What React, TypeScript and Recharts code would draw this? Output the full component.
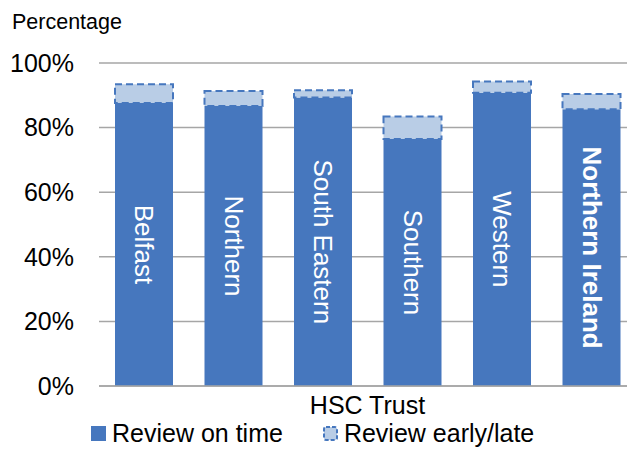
import { BarChart, Bar, XAxis, YAxis, CartesianGrid, Legend, LabelList } from "recharts";

const trusts = ["Belfast", "Northern", "South Eastern", "Southern", "Western", "Northern Ireland"];
const onTime = [87.6, 86.7, 89.3, 76.5, 90.8, 85.7];
const earlyLate = [5.8, 4.6, 2.3, 6.9, 3.5, 4.7];
const yTicks = [0, 20, 40, 60, 80, 100];

const DARK = "#4677BE";
const LIGHT = "#B9CDE6";
const GRID = "#a6a6a6";
const FONT = "'Liberation Sans', Arial, sans-serif";

const data = trusts.map((name, i) => ({ name, onTime: onTime[i], earlyLate: earlyLate[i] }));

function BarName(props: any) {
  const { x, y, width, height, value } = props;
  const cx = x + width / 2;
  const cy = y + height / 2;
  return (
    <text
      x={cx}
      y={cy}
      transform={`rotate(90, ${cx}, ${cy})`}
      textAnchor="middle"
      dominantBaseline="central"
      fill="#fff"
      fontSize={26}
      fontFamily={FONT}
      fontWeight={value === "Northern Ireland" ? "bold" : "normal"}
    >
      {value}
    </text>
  );
}

function LegendBox() {
  const item = (label: string, icon: any) => (
    <div style={{ display: "flex", alignItems: "center", gap: 6 }}>
      {icon}
      <span style={{ fontSize: 25, color: "#000", lineHeight: "26px" }}>{label}</span>
    </div>
  );
  return (
    <div style={{ display: "flex", gap: 40, fontFamily: FONT, paddingLeft: 91, paddingTop: 1 }}>
      {item("Review on time", <svg width={15} height={15}><rect x={0} y={0} width={15} height={15} fill={DARK} /></svg>)}
      {item(
        "Review early/late",
        <svg width={15} height={15}>
          <rect x={1} y={1} width={13} height={13} rx={2} fill={LIGHT} stroke={DARK} strokeWidth={2} strokeDasharray="4 2" />
        </svg>
      )}
    </div>
  );
}

export default function App() {
  return (
    <div style={{ position: "absolute", left: 0, top: 0, width: 627, height: 449, overflow: "hidden", background: "#fff", fontFamily: FONT }}>
      <div style={{ position: "absolute", left: 12, top: 10, fontSize: 21.5, color: "#000" }}>Percentage</div>
      <BarChart width={645} height={449} data={data} margin={{ top: 63, right: 9, left: 0, bottom: 0 }}>
        <CartesianGrid vertical={false} stroke={GRID} strokeWidth={1.5} />
        <XAxis
          dataKey="name"
          tick={false}
          tickLine={false}
          height={33}
          axisLine={{ stroke: GRID, strokeWidth: 1.5 }}
          label={{ value: "HSC Trust", position: "center", dy: 3, fill: "#000", fontSize: 25, fontFamily: FONT }}
        />
        <YAxis
          domain={[0, 100]}
          ticks={yTicks}
          width={99}
          tickSize={0}
          tickMargin={25}
          axisLine={false}
          tickLine={false}
          tickFormatter={(v) => `${v}%`}
          tick={{ fill: "#000", fontSize: 25, fontFamily: FONT }}
        />
        <Legend verticalAlign="bottom" height={30} content={() => <LegendBox />} />
        <Bar dataKey="onTime" stackId="a" fill={DARK} barSize={58} isAnimationActive={false}>
          <LabelList dataKey="name" content={BarName} />
        </Bar>
        <Bar
          dataKey="earlyLate"
          stackId="a"
          fill={LIGHT}
          stroke={DARK}
          strokeWidth={2}
          strokeDasharray="7 4"
          barSize={58}
          isAnimationActive={false}
        />
      </BarChart>
    </div>
  );
}
